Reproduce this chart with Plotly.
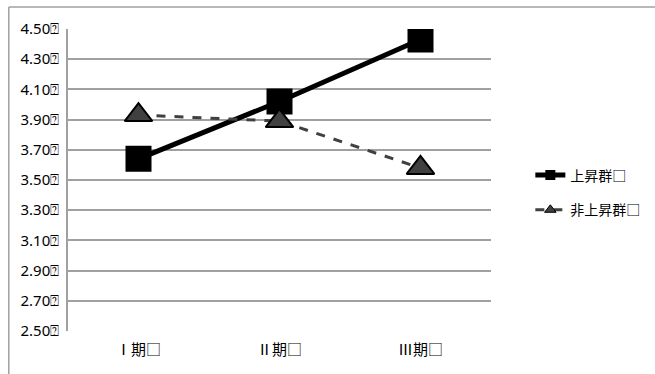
import plotly.graph_objects as go

categories = ["Ⅰ期□", "Ⅱ期□", "Ⅲ期□"]
rising = [3.64, 4.02, 4.43]
non_rising = [3.93, 3.89, 3.58]
series_names = ["上昇群□", "非上昇群□"]
y_ticks = [2.50, 2.70, 2.90, 3.10, 3.30, 3.50, 3.70, 3.90, 4.10, 4.30, 4.50]
y_tick_labels = [f"{v:.2f}⍰" for v in y_ticks]

FONT = "Noto Sans, Noto Sans CJK JP, sans-serif"

fig = go.Figure()
# plotted series (legend handled by separate small-marker entries)
fig.add_trace(go.Scatter(
    x=categories, y=rising, name=series_names[0], mode="lines+markers",
    line=dict(color="black", width=5),
    marker=dict(symbol="square", size=24, color="black", line=dict(color="black", width=2)),
    showlegend=False,
))
fig.add_trace(go.Scatter(
    x=categories, y=non_rising, name=series_names[1], mode="lines+markers",
    line=dict(color="#404040", width=3, dash="dash"),
    marker=dict(symbol="triangle-up", size=24, color="#404040", line=dict(color="black", width=2)),
    showlegend=False,
))
# legend entries
fig.add_trace(go.Scatter(
    x=[None], y=[None], name=series_names[0], mode="lines+markers",
    line=dict(color="black", width=5),
    marker=dict(symbol="square", size=10, color="black"),
    legend="legend",
))
fig.add_trace(go.Scatter(
    x=[None], y=[None], name=series_names[1], mode="lines+markers",
    line=dict(color="#404040", width=3, dash="dash"),
    marker=dict(symbol="triangle-up", size=10, color="#404040", line=dict(color="black", width=1)),
    legend="legend2",
))

fig.update_layout(
    width=655, height=374,
    margin=dict(l=68, r=164, t=29, b=43, autoexpand=False),
    paper_bgcolor="white", plot_bgcolor="white",
    font=dict(family=FONT, size=15, color="black"),
    showlegend=True,
    legend=dict(x=1.093, y=0.515, xanchor="left", yanchor="middle", bgcolor="rgba(0,0,0,0)",
                font=dict(size=14, family=FONT)),
    legend2=dict(x=1.093, y=0.40, xanchor="left", yanchor="middle", bgcolor="rgba(0,0,0,0)",
                 font=dict(size=14, family=FONT)),
    xaxis=dict(type="category", range=[-0.5, 2.5], showgrid=False, showline=False,
               ticks="", tickfont=dict(size=15), ticklabelstandoff=8, automargin=False),
    yaxis=dict(range=[2.5, 4.5], tickvals=y_ticks, ticktext=y_tick_labels,
               showgrid=True, gridcolor="#a0a0a0", gridwidth=1.5,
               showline=True, linecolor="#a0a0a0", linewidth=1.5, automargin=False,
               zeroline=False, ticks="", tickfont=dict(size=15), ticklabelstandoff=4),
    shapes=[
        dict(type="line", xref="paper", yref="paper", x0=-0.140, x1=1.5, y0=1.073, y1=1.073,
             line=dict(color="#a0a0a0", width=1.5)),
        dict(type="line", xref="paper", yref="paper", x0=-0.140, x1=-0.140, y0=1.073, y1=-0.2,
             line=dict(color="#a0a0a0", width=1.5)),
    ],
)

fig.write_html("out.html")
